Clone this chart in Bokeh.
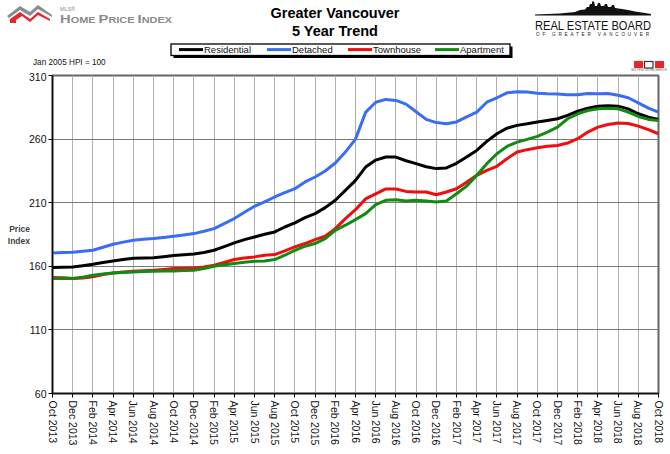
import math
from bokeh.plotting import figure
from bokeh.layouts import column
from bokeh.models import ColumnDataSource, FixedTicker, Div
from bokeh.embed import file_html
from bokeh.resources import INLINE

# ---------------- data ----------------
tick_labels = ["Oct 2013", "Dec 2013", "Feb 2014", "Apr 2014", "Jun 2014", "Aug 2014",
               "Oct 2014", "Dec 2014", "Feb 2015", "Apr 2015", "Jun 2015", "Aug 2015",
               "Oct 2015", "Dec 2015", "Feb 2016", "Apr 2016", "Jun 2016", "Aug 2016",
               "Oct 2016", "Dec 2016", "Feb 2017", "Apr 2017", "Jun 2017", "Aug 2017",
               "Oct 2017", "Dec 2017", "Feb 2018", "Apr 2018", "Jun 2018", "Aug 2018",
               "Oct 2018"]
months = list(range(61))  # Oct 2013 .. Oct 2018, monthly

residential = [159, 159.3, 159.5, 160.5, 161.6, 163, 164.2, 165.3, 166.3, 166.5, 166.8,
               167.6, 168.4, 169, 169.7, 170.8, 172.6, 175.5, 178.4, 181, 183, 185.2,
               187, 190.9, 194.1, 198.3, 201.4, 206.1, 211.9, 219.7, 227.6, 238, 243.5,
               245.9, 245.9, 243, 240.7, 238.3, 236.8, 237.3, 241, 246, 251.1, 258.2,
               264.2, 268.6, 270.8, 272, 273.4, 274.7, 276, 278.6, 282, 284.3, 285.9,
               286.2, 285.9, 283.8, 279.9, 277.3, 275.5]
detached = [170.5, 170.8, 171, 171.8, 172.6, 175, 177.3, 179, 180.5, 181.2, 181.8, 182.7,
            183.6, 184.6, 185.7, 187.5, 189.6, 193.5, 197.5, 202.5, 207.2, 210.6, 214.5,
            217.9, 221, 226.3, 230.2, 234.9, 241.2, 249.8, 260, 281, 289, 291.2, 290.4,
            287.5, 281.5, 275.5, 273, 272, 273.5, 277.5, 281.2, 289, 292.5, 296.4, 297.2,
            297, 296.1, 295.6, 295.4, 294.8, 294.8, 295.9, 295.6, 295.9, 294.5, 292.5,
            288.5, 284.3, 281.2]
townhouse = [151.2, 151, 150.4, 150.8, 151.7, 153.5, 154.8, 155.5, 156.1, 156.5, 156.9,
             157.5, 158.2, 158.3, 158.7, 159.5, 160.8, 163, 165.3, 166.5, 167.4, 168.7,
             169.2, 172.1, 175.3, 177.9, 181, 183.6, 189.6, 197.5, 204.5, 213, 217, 220.8,
             220.8, 218.9, 218.4, 218.4, 216.3, 218.4, 221, 226, 231.5, 235.4, 238.6,
             244.6, 249.8, 251.7, 253.2, 254.3, 255, 256.9, 260.3, 265.5, 269.4, 271.5,
             272.6, 272.3, 270.2, 267.4, 264.2]
apartment = [150.4, 150.6, 150.4, 151.5, 153, 154, 154.8, 155.2, 155.6, 155.9, 156.1,
             156.3, 156.4, 156.6, 156.9, 158.3, 160, 161.2, 162.2, 163.2, 164, 164.2,
             165.3, 168.7, 172.6, 175.8, 177.9, 181.8, 188.3, 192.3, 196.7, 201.4, 208.5,
             211.9, 212.4, 211.4, 211.9, 211.4, 210.6, 211.4, 217, 223, 231.5, 240.7,
             248.5, 254.3, 257.6, 259.8, 262.1, 265.5, 269.4, 276, 279.9, 282.5, 283.8,
             284.3, 283.8, 281.2, 277.8, 275.5, 274.7]
y_ticks = [60, 110, 160, 210, 260, 310]

series_names = ["Residential", "Detached", "Townhouse", "Apartment"]
series_keys = ["residential", "detached", "townhouse", "apartment"]
series_colors = ["#000000", "#3a6ef2", "#f00d0d", "#138a13"]

title_lines = ["Greater Vancouver", "5 Year Trend"]
base_note = "Jan 2005 HPI = 100"

FONT = "Liberation Sans"
HEAD_H = 72

# ---------------- header (HTML/SVG block: titles, logos, legend) ----------------
def pts(lst):
    return " ".join(f"{a},{b}" for a, b in lst)

legend_x = [179, 267, 348, 435]   # legend item start positions (px)
legend_svg = ('<rect x="173.5" y="46.5" width="339" height="11.5" fill="#000"/>'
              '<rect x="171" y="44" width="339" height="11.5" fill="#fff" stroke="#000" stroke-width="1.3"/>')
for name, col, lx in zip(series_names, series_colors, legend_x):
    legend_svg += (f'<line x1="{lx}" y1="49.6" x2="{lx + 24}" y2="49.6" stroke="{col}" stroke-width="3"/>'
                   f'<text x="{lx + 25}" y="53" font-family="{FONT}" font-size="9.5" fill="#111">{name}</text>')

hpi_gray = [(7, 16), (20, 6), (30, 12), (38, 5), (52, 15), (52, 17), (38, 9), (30, 16), (20, 10), (9, 18)]
hpi_red = [(10, 23), (10, 19), (20, 12), (30, 19), (38, 12), (50, 19), (50, 21), (38, 15), (30, 22),
           (22, 16), (16, 20), (16, 23)]
skyline = [(535, 14.5), (560, 13.5), (575, 12), (580, 10), (585, 9.5), (587, 7), (589, 7), (590, 4),
           (592, 4), (592, 1.5), (594, 1.5), (595, 6), (597, 6), (598, 3), (600, 3), (601, 6), (604, 6),
           (605, 4), (607, 4), (608, 7), (611, 7), (612, 5), (614, 5), (615, 8), (622, 9), (628, 10),
           (635, 11.5), (645, 13), (651, 14), (651, 15.5), (535, 15.5)]

small = 'font-size="8.5"'
big = 'font-size="11.5"'
hpi_text = (f'<text x="60" y="23" font-family="{FONT}" font-weight="bold" fill="#8a8a8a" '
            f'textLength="112" lengthAdjust="spacingAndGlyphs">'
            f'<tspan {big}>H</tspan><tspan {small}>OME </tspan><tspan {big}>P</tspan>'
            f'<tspan {small}>RICE </tspan><tspan {big}>I</tspan><tspan {small}>NDEX</tspan></text>')

svg = f'''<svg xmlns="http://www.w3.org/2000/svg" width="670" height="{HEAD_H}" style="position:absolute;left:0;top:0">
<polygon points="{pts(hpi_gray)}" fill="#8c8c8c"/>
<polygon points="{pts(hpi_red)}" fill="#e8262b"/>
<text x="60" y="11" font-family="{FONT}" font-size="5.5" fill="#8a8a8a">MLS®</text>
{hpi_text}
<text x="335" y="18" text-anchor="middle" font-family="{FONT}" font-weight="bold" font-size="14.5" fill="#000">{title_lines[0]}</text>
<text x="335" y="36" text-anchor="middle" font-family="{FONT}" font-weight="bold" font-size="14.5" fill="#000">{title_lines[1]}</text>
<polygon points="{pts(skyline)}" fill="#111"/>
<text x="535" y="29.5" font-family="Liberation Serif" font-size="12.5" fill="#111" textLength="116" lengthAdjust="spacingAndGlyphs">REAL ESTATE BOARD</text>
<text x="536" y="36" font-family="Liberation Serif" font-size="4.6" fill="#222" textLength="113" lengthAdjust="spacing">OF GREATER VANCOUVER</text>
{legend_svg}
<text x="33" y="65" font-family="{FONT}" font-size="8.2" fill="#111">{base_note}</text>
<rect x="634" y="61" width="9" height="7" fill="#e8262b"/>
<rect x="644.5" y="61.5" width="8.5" height="6.5" fill="#fff" stroke="#333" stroke-width="1.2"/>
<rect x="655" y="61" width="9" height="7" fill="#e8262b"/>
<text x="649" y="71" text-anchor="middle" font-family="{FONT}" font-size="2.6" fill="#555">MULTIPLE LISTING SERVICE</text>
</svg>'''
header = Div(text=f'<div style="position:relative;width:670px;height:{HEAD_H}px;overflow:hidden;background:#fff">{svg}</div>',
             width=670, height=HEAD_H, margin=0)

# ---------------- main chart ----------------
p = figure(width=670, height=454 - HEAD_H, x_range=(0, 60), y_range=(60, 310),
           output_backend="svg", toolbar_location=None, margin=0,
           min_border_left=52, min_border_right=12, min_border_top=3, min_border_bottom=61)
p.background_fill_color = "white"
p.border_fill_color = "white"
p.outline_line_color = "#666666"
p.outline_line_width = 2

src = ColumnDataSource(dict(m=months, residential=residential, detached=detached,
                            townhouse=townhouse, apartment=apartment))
for key, col in zip(series_keys, series_colors):
    p.line("m", key, source=src, line_color=col, line_width=3, line_join="round")

p.xaxis.ticker = FixedTicker(ticks=list(range(0, 61, 2)))
p.xaxis.major_label_overrides = {i * 2: lab for i, lab in enumerate(tick_labels)}
p.xaxis.major_label_orientation = -math.pi / 2
p.xaxis.major_label_text_font = FONT
p.xaxis.major_label_text_font_size = "10.5px"
p.xaxis.major_label_text_color = "#111111"
p.xaxis.major_label_standoff = 3
p.xaxis.minor_tick_line_color = None
p.xaxis.major_tick_out = 4
p.xaxis.major_tick_in = 0
p.xaxis.axis_line_color = "#111111"
p.xaxis.axis_line_width = 1.5

yax = p.yaxis[0]
yax.ticker = FixedTicker(ticks=y_ticks)
yax.major_label_text_font = FONT
yax.major_label_text_font_size = "10.5px"
yax.major_label_text_color = "#111111"
yax.major_label_standoff = 2
yax.minor_tick_line_color = None
yax.major_tick_out = 4
yax.major_tick_in = 0
yax.axis_line_color = "#111111"
yax.axis_line_width = 1.5
yax.axis_label = "Price\nIndex"
yax.axis_label_text_font = FONT
yax.axis_label_text_font_style = "bold"
yax.axis_label_text_font_size = "8.5px"
yax.axis_label_standoff = -4
try:
    yax.axis_label_orientation = "horizontal"
except Exception:
    pass

p.xgrid.grid_line_color = "#b0b0b0"
p.xgrid.grid_line_width = 1
p.ygrid.grid_line_color = "#7a7a7a"
p.ygrid.grid_line_width = 1

layout = column(header, p, spacing=0)
open("out.html", "w").write(file_html(layout, INLINE))
